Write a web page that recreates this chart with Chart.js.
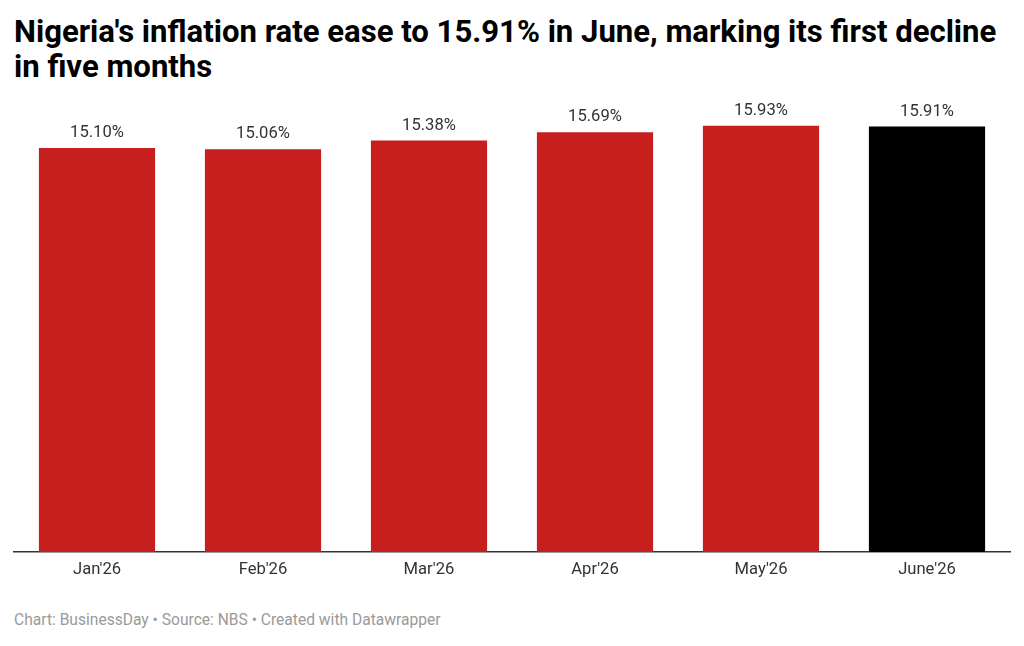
<!DOCTYPE html>
<html>
<head>
<meta charset="utf-8">
<script src="https://cdn.jsdelivr.net/npm/chart.js@4"></script>
<style>
  html, body { margin: 0; padding: 0; background: #fff; }
  body { width: 1024px; height: 646px; position: relative; overflow: hidden; font-family: Roboto, sans-serif; }
  #title { position: absolute; left: 14px; top: 14px; width: 1000px; font-weight: 700; font-size: 31.1px; line-height: 35px; color: #000; }
  #chartBox { position: absolute; left: 0; top: 100px; width: 1024px; height: 500px; }
  #footer { position: absolute; left: 14px; top: 611px; font-size: 15.6px; color: #9a9a9a; }
</style>
</head>
<body>
<div id="title">Nigeria's inflation rate ease to 15.91% in June, marking its first decline in five months</div>
<div id="chartBox"><canvas id="barChart"></canvas></div>
<div id="footer">Chart: BusinessDay • Source: NBS • Created with Datawrapper</div>
<script>
// months and inflation rate (%)
const months = ["Jan'26", "Feb'26", "Mar'26", "Apr'26", "May'26", "June'26"];
const rates = [15.10, 15.06, 15.38, 15.69, 15.93, 15.91];
const barColors = ['#c71e1e', '#c71e1e', '#c71e1e', '#c71e1e', '#c71e1e', '#000000'];

// value labels above bars
const valueLabels = {
    id: 'valueLabels',
    afterDatasetsDraw(chart) {
        const ctx = chart.ctx;
        const meta = chart.getDatasetMeta(0);
        ctx.save();
        ctx.font = '16.6px Roboto';
        ctx.fillStyle = '#333';
        ctx.textAlign = 'center';
        ctx.textBaseline = 'middle';
        meta.data.forEach((bar, i) => {
            ctx.fillText(rates[i].toFixed(2) + '%', bar.x, bar.y - 15);
        });
        ctx.restore();
    }
};

const ctxBar = document.getElementById('barChart');

new Chart(ctxBar, {
    type: 'bar',
    data: {
        labels: months,
        datasets: [{
            data: rates,
            backgroundColor: barColors,
            borderWidth: 0,
            barPercentage: 0.7,
            categoryPercentage: 1
        }]
    },
    options: {
        responsive: true,
        maintainAspectRatio: false,
        animation: false,
        layout: { padding: { top: 24, left: 14, right: 14, bottom: 8 } },
        plugins: {
            legend: { display: false },
            tooltip: { enabled: false }
        },
        scales: {
            x: {
                grid: { display: false, drawTicks: false },
                border: { display: true, color: '#333', width: 1.5 },
                ticks: { color: '#333', font: { family: 'Roboto', size: 16.6 }, padding: 8 },
                afterFit: (scale) => { scale.height = 40; }
            },
            y: {
                display: false,
                min: 0,
                max: 16
            }
        }
    },
    plugins: [valueLabels]
});
</script>
</body>
</html>
